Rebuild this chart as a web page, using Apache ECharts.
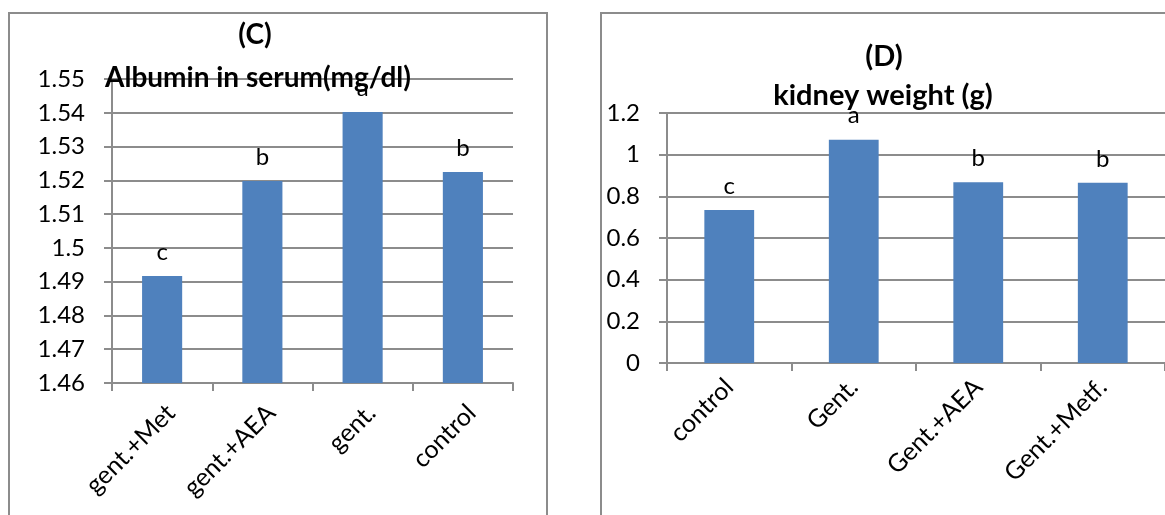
<!DOCTYPE html>
<html>
<head>
<meta charset="utf-8">
<script src="https://cdn.jsdelivr.net/npm/echarts@6/dist/echarts.min.js"></script>
<style>
html,body{margin:0;padding:0;background:#fff;}
#chart{width:1165px;height:515px;}
</style>
</head>
<body>
<div id="chart"></div>
<script>
// Panel (C): Albumin in serum (mg/dl)
const categoriesC = ['gent.+Met', 'gent.+AEA', 'gent.', 'control'];
const valuesC = [1.4917, 1.5198, 1.5402, 1.5225];
const lettersC = ['c', 'b', 'a', 'b'];
const yMinC = 1.46, yMaxC = 1.55, yStepC = 0.01;

// Panel (D): kidney weight (g)
const categoriesD = ['control', 'Gent.', 'Gent.+AEA', 'Gent.+Metf.'];
const valuesD = [0.735, 1.072, 0.868, 0.865];
const lettersD = ['c', 'a', 'b', 'b'];
const yMinD = 0, yMaxD = 1.2, yStepD = 0.2;

const titleC = ['(C)', 'Albumin in serum(mg/dl)'];
const titleD = ['(D)', 'kidney weight (g)'];

const FONT = 'Lato';
const GRAY = '#8c8c8c';
const BAR = '#4f81bd';

const chart = echarts.init(document.getElementById('chart'), null, {renderer: 'canvas'});

function xAxis(idx, cats, margin, vAlign) {
  return {
    type: 'category', gridIndex: idx, data: cats,
    axisLine: {show: true, lineStyle: {color: GRAY, width: 2}},
    axisTick: {show: true, length: 8, lineStyle: {color: GRAY, width: 2}},
    axisLabel: {rotate: 45, margin: margin, align: 'right', verticalAlign: vAlign,
      color: '#000', fontFamily: FONT, fontSize: 25, interval: 0}
  };
}
function yAxis(idx, min, max, step) {
  return {
    type: 'value', gridIndex: idx, min: min, max: max, interval: step,
    axisLine: {show: true, lineStyle: {color: GRAY, width: 2}},
    axisTick: {show: true, length: 8, lineStyle: {color: GRAY, width: 2}},
    splitLine: {show: true, lineStyle: {color: GRAY, width: 2}},
    axisLabel: {margin: 27, color: '#000', fontFamily: FONT, fontSize: 24,
      formatter: v => String(+v.toFixed(2))}
  };
}
function bars(idx, vals, letters) {
  return {
    type: 'bar', xAxisIndex: idx, yAxisIndex: idx, data: vals,
    barWidth: '40%',
    itemStyle: {color: BAR},
    labelLayout: {hideOverlap: false},
    label: {show: true, position: 'top', distance: 12, color: '#000',
      fontFamily: FONT, fontSize: 24,
      formatter: p => letters[p.dataIndex]}
  };
}

chart.setOption({
  animation: false,
  grid: [
    {left: 112, top: 79, width: 401, height: 304, containLabel: false},
    {left: 667, top: 113, width: 500, height: 250, containLabel: false}
  ],
  xAxis: [xAxis(0, categoriesC, 17, 'top'), xAxis(1, categoriesD, 20, 'middle')],
  yAxis: [yAxis(0, yMinC, yMaxC, yStepC), yAxis(1, yMinD, yMaxD, yStepD)],
  series: [bars(0, valuesC, lettersC), bars(1, valuesD, lettersD)],
  graphic: [
    {type: 'rect', shape: {x: 9, y: 13, width: 538, height: 530},
      style: {fill: null, stroke: GRAY, lineWidth: 2}, z: 100},
    {type: 'rect', shape: {x: 601, y: 13, width: 620, height: 530},
      style: {fill: null, stroke: GRAY, lineWidth: 2}, z: 100},
    {type: 'text', x: 255, y: 35, z: 100, silent: true,
      style: {text: titleC[0], font: 'bold 28px ' + FONT, fill: '#000', align: 'center', verticalAlign: 'middle'}},
    {type: 'text', x: 258, y: 78, z: 100, silent: true,
      style: {text: titleC[1], font: 'bold 28px ' + FONT, fill: '#000', align: 'center', verticalAlign: 'middle'}},
    {type: 'text', x: 884, y: 57, z: 100, silent: true,
      style: {text: titleD[0], font: 'bold 29px ' + FONT, fill: '#000', align: 'center', verticalAlign: 'middle'}},
    {type: 'text', x: 883, y: 96, z: 100, silent: true,
      style: {text: titleD[1], font: 'bold 29px ' + FONT, fill: '#000', align: 'center', verticalAlign: 'middle'}}
  ]
});
</script>
</body>
</html>
